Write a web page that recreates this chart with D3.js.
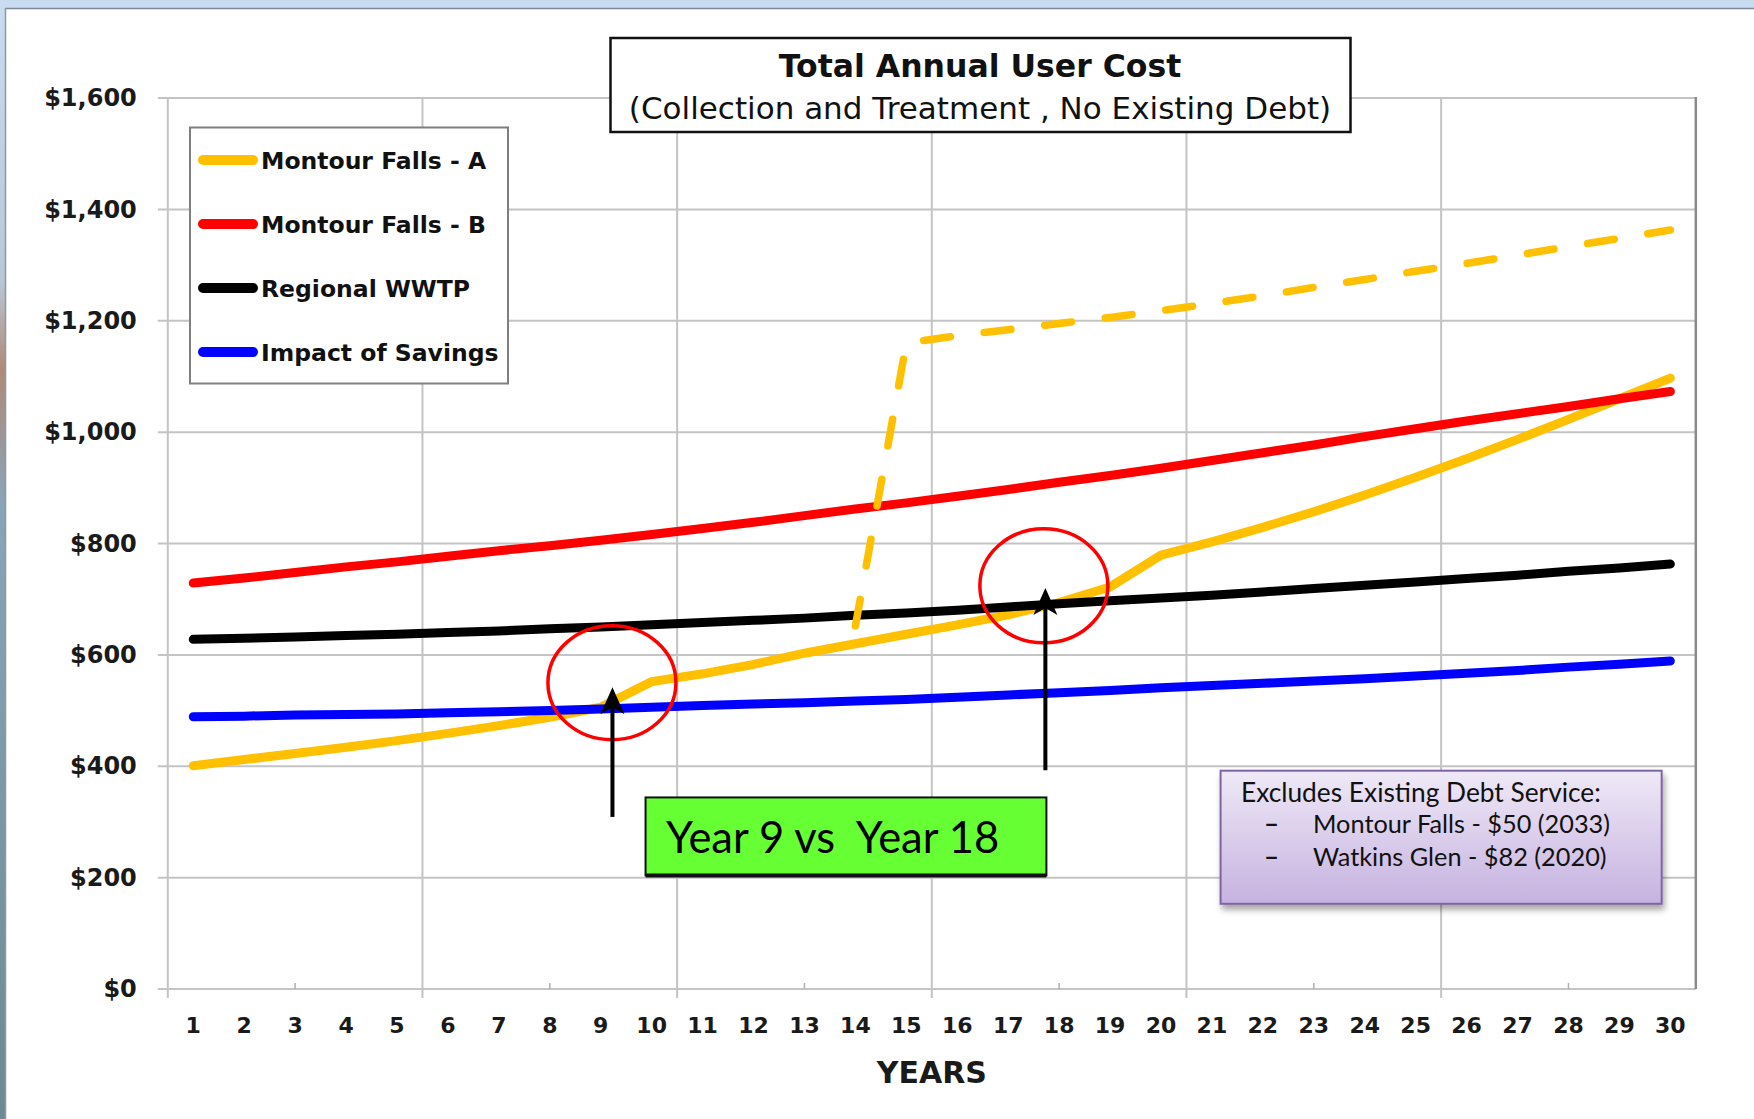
<!DOCTYPE html>
<html lang="en">
<head>
<meta charset="UTF-8">
<title>Total Annual User Cost</title>
<script src="https://cdn.jsdelivr.net/npm/d3@7/dist/d3.min.js"></script>
<style>
    body { margin: 0; background: #fff; }
    svg { display: block; }
</style>
</head>
<body>
<script>
    // data
    var years = [1, 2, 3, 4, 5, 6, 7, 8, 9, 10, 11, 12, 13, 14, 15,
        16, 17, 18, 19, 20, 21, 22, 23, 24, 25, 26, 27, 28, 29, 30];
    var montourA = [401, 412, 423, 434, 446, 459, 473, 488, 506, 552, 566, 583, 603, 620, 637,
        654, 672, 694, 722, 779, 803, 829, 857, 887, 919, 952, 987, 1023, 1060, 1097];
    var montourADashed = [null, null, null, null, null, null, null, null, null, null, null, null, null, 652, 1160,
        1173, 1184, 1195, 1206, 1218, 1231, 1245, 1260, 1274, 1289, 1303, 1318, 1333, 1348, 1363];
    var montourB = [729, 738, 748, 758, 767, 777, 787, 796, 806, 816, 827, 838, 850, 862, 873,
        885, 897, 910, 922, 935, 949, 963, 977, 992, 1006, 1020, 1033, 1046, 1060, 1073];
    var regional = [628, 630, 632, 635, 637, 640, 643, 647, 650, 654, 658, 662, 666, 671, 675,
        680, 686, 692, 697, 702, 707, 713, 719, 725, 731, 737, 743, 750, 756, 763];
    var savings = [489, 490, 492, 493, 494, 496, 498, 500, 503, 506, 509, 512, 514, 517, 520,
        524, 528, 532, 536, 541, 545, 549, 553, 557, 562, 567, 572, 578, 583, 589];
    var yTicks = [0, 200, 400, 600, 800, 1000, 1200, 1400, 1600];
    var gridYears = [1, 6, 11, 16, 21, 26];
    var minorYears = [3, 8, 13, 18, 23, 28];
    var seriesNames = ["Montour Falls - A", "Montour Falls - B", "Regional WWTP", "Impact of Savings"];
    var seriesColors = ["#FFC000", "#FF0000", "#000000", "#0000FF"];
    var noteLines = ["Montour Falls - $50 (2033)", "Watkins Glen - $82 (2020)"];

    function drawChart() {
        var w = 1754, h = 1119;
        var plotLeft = 167.8, plotRight = 1695.8, plotTop = 98, plotBottom = 989;

        var svg = d3.select("body").append("svg")
            .attr("width", w)
            .attr("height", h);

        var defs = svg.append("defs");
        var sideGrad = defs.append("linearGradient").attr("id", "side")
            .attr("x1", 0).attr("y1", 0).attr("x2", 0).attr("y2", 1);
        sideGrad.append("stop").attr("offset", "0").attr("stop-color", "#c9dcf0");
        sideGrad.append("stop").attr("offset", "0.25").attr("stop-color", "#b9c8d8");
        sideGrad.append("stop").attr("offset", "0.33").attr("stop-color", "#b08a78");
        sideGrad.append("stop").attr("offset", "0.45").attr("stop-color", "#8aa4b8");
        sideGrad.append("stop").attr("offset", "1").attr("stop-color", "#6c8a92");
        var noteGrad = defs.append("linearGradient").attr("id", "note")
            .attr("x1", 0).attr("y1", 0).attr("x2", 0).attr("y2", 1);
        noteGrad.append("stop").attr("offset", "0").attr("stop-color", "#efe9f7");
        noteGrad.append("stop").attr("offset", "1").attr("stop-color", "#c6b2e0");
        var shadow = defs.append("filter").attr("id", "shadow")
            .attr("x", "-10%").attr("y", "-10%").attr("width", "130%").attr("height", "140%");
        shadow.append("feDropShadow").attr("dx", 2).attr("dy", 5)
            .attr("stdDeviation", 3).attr("flood-color", "#000").attr("flood-opacity", 0.35);

        // window frame around the chart
        svg.append("rect").attr("x", 0).attr("y", 0).attr("width", w).attr("height", 8)
            .attr("fill", "#c8dbf1");
        svg.append("rect").attr("x", 0).attr("y", 0).attr("width", 5).attr("height", h)
            .attr("fill", "url(#side)");
        svg.append("line").attr("x1", 5).attr("x2", w).attr("y1", 8.5).attr("y2", 8.5)
            .attr("stroke", "#7c8894").attr("stroke-width", 1.5);
        svg.append("line").attr("x1", 5.5).attr("x2", 5.5).attr("y1", 8).attr("y2", h)
            .attr("stroke", "#8c98a4").attr("stroke-width", 1.5);

        var x = d3.scaleBand().domain(years).range([plotLeft, plotRight]).padding(0);
        var xl = d3.scaleLinear().domain([0.5, 30.5]).range([plotLeft, plotRight]);
        var y = d3.scaleLinear().domain([0, 1600]).range([plotBottom, plotTop]);
        var bw = x.bandwidth();

        // grid
        svg.selectAll("line.hgrid")
            .data(yTicks)
            .enter()
            .append("line")
            .attr("class", "hgrid")
            .attr("x1", plotLeft - 10)
            .attr("x2", plotRight)
            .attr("y1", function(d) { return y(d); })
            .attr("y2", function(d) { return y(d); })
            .attr("stroke", "#c4c4c4")
            .attr("stroke-width", 2);
        svg.selectAll("line.vgrid")
            .data(gridYears)
            .enter()
            .append("line")
            .attr("class", "vgrid")
            .attr("x1", function(d) { return x(d); })
            .attr("x2", function(d) { return x(d); })
            .attr("y1", plotTop)
            .attr("y2", plotBottom + 9)
            .attr("stroke", "#c4c4c4")
            .attr("stroke-width", 2);
        svg.selectAll("line.minor")
            .data(minorYears)
            .enter()
            .append("line")
            .attr("class", "minor")
            .attr("x1", function(d) { return x(d) + bw / 2; })
            .attr("x2", function(d) { return x(d) + bw / 2; })
            .attr("y1", plotBottom)
            .attr("y2", plotBottom - 6)
            .attr("stroke", "#b0b0b0")
            .attr("stroke-width", 1.5);
        svg.append("line")
            .attr("x1", plotRight).attr("x2", plotRight)
            .attr("y1", plotTop - 1).attr("y2", plotBottom)
            .attr("stroke", "#8a8a8a").attr("stroke-width", 2.5);

        // axes
        var yAxis = svg.append("g")
            .attr("transform", "translate(" + plotLeft + ",0)")
            .call(d3.axisLeft(y).tickValues(yTicks).tickFormat(d3.format("$,")).tickSize(0).tickPadding(31));
        yAxis.select(".domain").remove();
        yAxis.selectAll("text")
            .attr("font-family", "DejaVu Sans")
            .attr("font-weight", "bold")
            .attr("font-size", "24px")
            .attr("fill", "#1a1a1a");

        var xAxis = svg.append("g")
            .attr("transform", "translate(0," + plotBottom + ")")
            .call(d3.axisBottom(x).tickSize(0).tickPadding(28));
        xAxis.select(".domain").remove();
        xAxis.selectAll("text")
            .attr("font-family", "DejaVu Sans")
            .attr("font-weight", "bold")
            .attr("font-size", "22px")
            .attr("fill", "#1a1a1a");

        svg.append("text")
            .text("YEARS")
            .attr("x", (plotLeft + plotRight) / 2)
            .attr("y", 1083)
            .attr("text-anchor", "middle")
            .attr("font-family", "DejaVu Sans")
            .attr("font-weight", "bold")
            .attr("font-size", "30px")
            .attr("fill", "#1a1a1a");

        // series
        var line = d3.line()
            .defined(function(d) { return d != null; })
            .x(function(d, i) { return x(years[i]) + bw / 2; })
            .y(function(d) { return y(d); });
        var solid = [montourA, montourB, regional, savings];
        svg.selectAll("path.series")
            .data(solid)
            .enter()
            .append("path")
            .attr("class", "series")
            .attr("d", line)
            .attr("fill", "none")
            .attr("stroke", function(d, i) { return seriesColors[i]; })
            .attr("stroke-width", 9)
            .attr("stroke-linecap", "round")
            .attr("stroke-linejoin", "round");
        svg.append("path")
            .attr("d", line(montourADashed))
            .attr("fill", "none")
            .attr("stroke", seriesColors[0])
            .attr("stroke-width", 7.5)
            .attr("stroke-dasharray", "27,34")
            .attr("stroke-linecap", "round")
            .attr("stroke-linejoin", "round");

        // title box
        svg.append("rect")
            .attr("x", 610.5).attr("y", 38)
            .attr("width", 740).attr("height", 94)
            .attr("fill", "#fff")
            .attr("stroke", "#111")
            .attr("stroke-width", 2.5);
        svg.append("text")
            .text("Total Annual User Cost")
            .attr("x", 980).attr("y", 77)
            .attr("text-anchor", "middle")
            .attr("font-family", "DejaVu Sans")
            .attr("font-weight", "bold")
            .attr("font-size", "31.5px")
            .attr("fill", "#111");
        svg.append("text")
            .text("(Collection and Treatment , No Existing Debt)")
            .attr("x", 980).attr("y", 119)
            .attr("text-anchor", "middle")
            .attr("font-family", "DejaVu Sans")
            .attr("font-size", "31px")
            .attr("fill", "#111");

        // legend
        var legend = svg.append("g");
        legend.append("rect")
            .attr("x", 190).attr("y", 127.5)
            .attr("width", 318).attr("height", 256)
            .attr("fill", "#fff")
            .attr("stroke", "#7f7f7f")
            .attr("stroke-width", 2);
        var items = legend.selectAll("g.item")
            .data(seriesNames)
            .enter()
            .append("g")
            .attr("class", "item")
            .attr("transform", function(d, i) { return "translate(0," + (160 + i * 64) + ")"; });
        items.append("line")
            .attr("x1", 203).attr("x2", 253)
            .attr("y1", 0).attr("y2", 0)
            .attr("stroke", function(d, i) { return seriesColors[i]; })
            .attr("stroke-width", 10)
            .attr("stroke-linecap", "round");
        items.append("text")
            .text(function(d) { return d; })
            .attr("x", 261)
            .attr("y", 8.5)
            .attr("font-family", "DejaVu Sans")
            .attr("font-weight", "bold")
            .attr("font-size", "23.5px")
            .attr("fill", "#111");

        // circles and arrows around year 9 and year 18
        var rings = [{yr: 9.22, v: 550}, {yr: 17.7, v: 724}];
        svg.selectAll("ellipse.ring")
            .data(rings)
            .enter()
            .append("ellipse")
            .attr("class", "ring")
            .attr("cx", function(d) { return xl(d.yr); })
            .attr("cy", function(d) { return y(d.v); })
            .attr("rx", 64)
            .attr("ry", 57)
            .attr("fill", "none")
            .attr("stroke", "#FF0000")
            .attr("stroke-width", 3.5);
        var arrows = [{yr: 9.23, from: 309, to: 542}, {yr: 17.73, from: 393, to: 720}];
        arrows.forEach(function(a) {
            var ax = xl(a.yr), tip = y(a.to);
            svg.append("line")
                .attr("x1", ax).attr("x2", ax)
                .attr("y1", y(a.from)).attr("y2", tip + 18)
                .attr("stroke", "#000")
                .attr("stroke-width", 4);
            svg.append("path")
                .attr("d", "M" + ax + "," + tip + "L" + (ax - 12) + "," + (tip + 27) +
                    "L" + ax + "," + (tip + 20) + "L" + (ax + 12) + "," + (tip + 27) + "Z")
                .attr("fill", "#000");
        });

        // green label
        svg.append("rect")
            .attr("x", xl(9.88)).attr("y", y(344))
            .attr("width", xl(17.75) - xl(9.88)).attr("height", y(204) - y(344))
            .attr("fill", "#66FF33")
            .attr("stroke", "#111")
            .attr("stroke-width", 2);
        svg.append("line")
            .attr("x1", xl(9.88)).attr("x2", xl(17.75))
            .attr("y1", y(204)).attr("y2", y(204))
            .attr("stroke", "#111").attr("stroke-width", 4);
        svg.append("text")
            .text("Year 9 vs  Year 18")
            .style("white-space", "pre")
            .attr("x", 666).attr("y", 853)
            .attr("font-family", "Lato")
            .attr("font-size", "43.5px")
            .attr("fill", "#000");

        // note box
        svg.append("rect")
            .attr("x", xl(21.17)).attr("y", y(392))
            .attr("width", xl(29.83) - xl(21.17)).attr("height", y(153) - y(392))
            .attr("fill", "url(#note)")
            .attr("stroke", "#8064A2")
            .attr("stroke-width", 2)
            .attr("filter", "url(#shadow)");
        svg.append("text")
            .text("Excludes Existing Debt Service:")
            .attr("x", 1241).attr("y", 802)
            .attr("font-family", "Lato")
            .attr("font-size", "26.3px")
            .attr("fill", "#111");
        var notes = svg.selectAll("g.note")
            .data(noteLines)
            .enter()
            .append("g")
            .attr("class", "note")
            .attr("transform", function(d, i) { return "translate(0," + (833 + i * 32.5) + ")"; });
        notes.append("text")
            .text("\u2013")
            .attr("x", 1264)
            .attr("font-family", "Lato")
            .attr("font-size", "26px")
            .attr("font-weight", "bold")
            .attr("fill", "#111");
        notes.append("text")
            .text(function(d) { return d; })
            .attr("x", 1313)
            .attr("font-family", "Lato")
            .attr("font-size", "25.3px")
            .attr("fill", "#111");
    }
    drawChart();
</script>
</body>
</html>
